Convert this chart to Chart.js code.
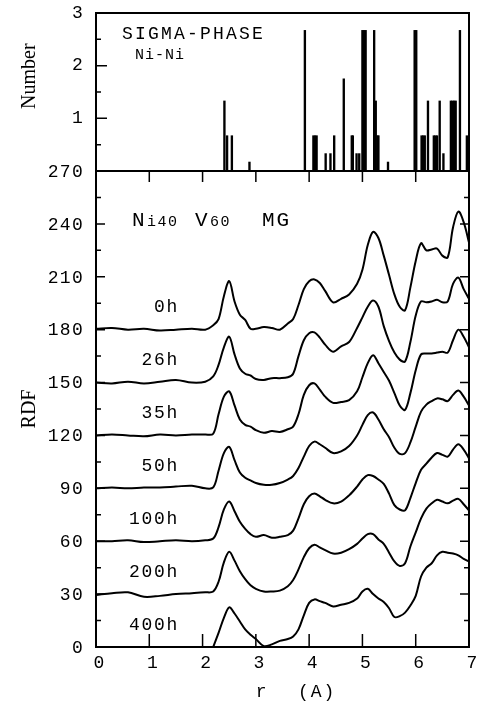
<!DOCTYPE html>
<html><head><meta charset="utf-8">
<script src="https://cdn.jsdelivr.net/npm/chart.js@4.4.1/dist/chart.umd.min.js"></script>
<style>html,body{margin:0;padding:0;background:#fff}#wrap{position:relative;width:480px;height:716px}</style>
</head><body><div id="wrap"><canvas id="c" width="480" height="716"></canvas></div>
<script>
// r grid (Angstrom)
const R = [0,0.3,0.6,0.9,1.2,1.5,1.8,2.05,2.2,2.3,2.4,2.5,2.6,2.7,2.8,2.9,3.0,3.15,3.3,3.45,3.6,3.7,3.8,3.9,4.0,4.1,4.2,4.3,4.45,4.6,4.75,4.9,5.0,5.1,5.2,5.3,5.4,5.5,5.6,5.7,5.8,5.9,6.0,6.1,6.2,6.3,6.4,6.5,6.6,6.7,6.8,6.9,7.0];
// RDF curves (axis units, with vertical offsets as plotted)
const RDF_0h   = [180.5,181,180,180.5,179.5,180,180.5,180,182.5,186,199,207.5,196,188.5,185.5,180.5,180.5,181.5,181,180,183.5,186,194,203,207.5,208.5,206.5,202,195.5,197.5,200,206,214,228,235.5,232,222,211,200,193,191,204,219,229,225,225.5,226,222,221,238,247,241,229.5];
const RDF_26h  = [150,149.5,150.5,149.5,150.5,151.5,150,150.5,153.5,160,170,176,166,158,155,154,152,151.5,152.5,152.5,153,155,165,174,178,178.5,175.5,171.5,167.5,170.5,173,181,187,193,196.5,193,182,173.5,167,163,162,173,188,196,195.5,196,197,195.5,196,206,209.5,203,197.5];
const RDF_35h  = [120,120.5,120,119.5,120.5,120,120.5,120.5,121,132,142,145,137,129,126,125,123,121.5,122.5,122,123.5,125,132,143,148.5,149.5,146,142,138.5,139,140,145,153,161,165.5,161,156,151,144,137,134.5,144,157,166,166.5,166.5,167,167.5,167,174,180,176,170];
const RDF_50h  = [90,90.5,90,90.5,90.5,91,91.5,90,90.5,100,110,113.5,106,99,96,94.5,93,92,92,93,95,97,101.5,108,114,116.5,115,113,110,111,114,120,126,131.5,133,129,123.5,119,113,109.5,110,116,125,133.5,137.5,139.5,141,140.5,139.5,143,145.5,142,137];
const RDF_100h = [60,60,60.5,59.5,60,60.5,60,60.5,61.5,68,78,82.5,77,71,67,64,62.5,63.5,62,62.5,63.5,66,73,81,85.5,87,85.5,83.5,81.5,82.5,86,91,95,97.5,97,95,92.5,87,80.5,78,77.5,84.5,93,100.5,104,107.5,110,109,108,112,115,112,107];
const RDF_200h = [29.5,30.5,31,28.5,29,30,30.5,31,31.5,37,48,54,49,43,38.5,35,33,31.5,31.5,32,34.5,38,44,51,56,58,56.5,55,53,53.5,55.5,58.5,61.5,64,64,61,58.5,53.5,48.5,46,47.5,57,65,73,78.5,81.5,83.5,82.5,81.5,83,84,81,77.5];
const RDF_400h = [null,null,null,null,null,null,null,null,0,8,16.5,22.5,19,14.5,10,7,4.5,0.5,1.5,3.5,4.5,6,10,18,25,27,26,25,23,24,25,27.5,31.5,33,30,27.5,25.5,22,17,17.5,19.5,23.5,29,40,45,47.5,52,54,53.5,53,52,50,48.5];
const CURVES = [RDF_0h,RDF_26h,RDF_35h,RDF_50h,RDF_100h,RDF_200h,RDF_400h];
const CURVE_LABELS = ['0h','26h','35h','50h','100h','200h','400h'];
const CURVE_OFFSETS = [180,150,120,90,60,30,0];
// Sigma-phase Ni-Ni distance histogram
const BAR_R = [2.41,2.46,2.55,2.88,3.92,4.08,4.11,4.14,4.31,4.40,4.47,4.65,4.80,4.82,4.89,4.94,5.00,5.03,5.06,5.22,5.25,5.28,5.30,5.48,5.98,6.01,6.11,6.14,6.17,6.23,6.34,6.37,6.40,6.45,6.52,6.66,6.69,6.72,6.75,6.83,6.96];
const BAR_N = [1.33,0.67,0.67,0.17,2.67,0.67,0.67,0.67,0.33,0.33,0.67,1.75,0.67,0.67,0.33,0.33,2.67,2.67,2.67,2.67,1.33,0.67,0.67,0.17,2.67,2.67,0.67,0.67,0.67,1.33,0.67,0.67,0.67,1.33,0.33,1.33,1.33,1.33,1.33,2.67,0.67];
const X_TICKS = [0,1,2,3,4,5,6,7];
const RDF_TICKS = [0,30,60,90,120,150,180,210,240,270];
const NUMBER_TICKS = [1,2,3];

// layout: plot frame 96..469 x 13..647, divider at 171
const AREA_TOP = 13, AREA_BOTTOM = 647, DIVIDER = 171;
const YR_MAX = 270 * (AREA_BOTTOM - AREA_TOP) / (AREA_BOTTOM - DIVIDER);
const YN_MIN = 3 - 3 * (AREA_BOTTOM - AREA_TOP) / (DIVIDER - AREA_TOP);

const MONO = '"Liberation Mono", "DejaVu Sans Mono", monospace';
const SERIF = '"Liberation Serif", "DejaVu Serif", serif';

const datasets = [{
  type: 'bar',
  data: BAR_R.map((r, i) => ({x: r, y: BAR_N[i]})),
  xAxisID: 'x', yAxisID: 'yN',
  backgroundColor: '#000', borderWidth: 0,
  barThickness: 1.7, grouped: false
}];
CURVES.forEach((vals, k) => datasets.push({
  type: 'line', label: CURVE_LABELS[k],
  data: R.map((r, i) => ({x: r, y: vals[i]})),
  xAxisID: 'x', yAxisID: 'yR',
  borderColor: '#000', borderWidth: 2, pointRadius: 0,
  tension: 0.35, spanGaps: false, fill: false
}));

function txt(ctx, s, x, y, font, align, spacing) {
  ctx.font = font; ctx.textAlign = align || 'left'; ctx.textBaseline = 'middle';
  ctx.letterSpacing = (spacing || 0) + 'px';
  ctx.fillText(s, x, y);
  ctx.letterSpacing = '0px';
}

const frame = {
  id: 'frame',
  afterDraw(chart) {
    const ctx = chart.ctx, a = chart.chartArea;
    const xs = chart.scales.x, yR = chart.scales.yR, yN = chart.scales.yN;
    ctx.save();
    ctx.strokeStyle = '#000'; ctx.fillStyle = '#000';
    ctx.lineWidth = 2;
    ctx.strokeRect(a.left, a.top, a.right - a.left, a.bottom - a.top);
    const yd = yN.getPixelForValue(0);
    ctx.beginPath(); ctx.moveTo(a.left, yd); ctx.lineTo(a.right, yd); ctx.stroke();
    ctx.lineWidth = 1.5;
    ctx.beginPath();
    X_TICKS.slice(1, -1).forEach(v => {
      const px = xs.getPixelForValue(v);
      ctx.moveTo(px, yd); ctx.lineTo(px, yd + 11);
      ctx.moveTo(px, a.bottom); ctx.lineTo(px, a.bottom - 13);
    });
    for (let v = 15; v < 270; v += 15) {
      const py = yR.getPixelForValue(v), len = (v % 30 === 0) ? 9 : 5;
      ctx.moveTo(a.left, py); ctx.lineTo(a.left + len, py);
      ctx.moveTo(a.right, py); ctx.lineTo(a.right - len, py);
    }
    for (let v = 0.5; v < 3; v += 0.5) {
      const py = yN.getPixelForValue(v), len = (v % 1 === 0) ? 11 : 5;
      ctx.moveTo(a.left, py); ctx.lineTo(a.left + len, py);
    }
    ctx.stroke();
    const tf = '18px ' + MONO;
    RDF_TICKS.forEach(v => txt(ctx, String(v), 84, yR.getPixelForValue(v) + 1, tf, 'right', 1.3));
    NUMBER_TICKS.forEach(v => txt(ctx, String(v), 84, yN.getPixelForValue(v), tf, 'right', 1.3));
    X_TICKS.forEach(v => txt(ctx, String(v), xs.getPixelForValue(v) + 3, 663, tf, 'center', 0));
    txt(ctx, 'r', xs.getPixelForValue(3.1), 692, tf, 'center', 0);
    txt(ctx, '(A)', xs.getPixelForValue(4.15), 692, tf, 'center', 2);
    ctx.save(); ctx.translate(30, yN.getPixelForValue(1.8)); ctx.rotate(-Math.PI / 2);
    txt(ctx, 'Number', 0, 0, '20px ' + SERIF, 'center', 0); ctx.restore();
    ctx.save(); ctx.translate(30, yR.getPixelForValue(135)); ctx.rotate(-Math.PI / 2);
    txt(ctx, 'RDF', 0, 0, '20px ' + SERIF, 'center', 0); ctx.restore();
    txt(ctx, 'SIGMA-PHASE', 122, 34, '18px ' + MONO, 'left', 2.2);
    txt(ctx, 'Ni-Ni', 135, 55, '15px ' + MONO, 'left', 1);
    txt(ctx, 'N', 132, 220, '21px ' + MONO, 'left', 0);
    txt(ctx, 'i40', 147, 222, '15px ' + MONO, 'left', 1.5);
    txt(ctx, 'V', 195, 220, '21px ' + MONO, 'left', 0);
    txt(ctx, '60', 210, 222, '15px ' + MONO, 'left', 1.5);
    txt(ctx, 'MG', 262, 220, '21px ' + MONO, 'left', 2);
    CURVE_LABELS.forEach((s, k) => txt(ctx, s, 179, yR.getPixelForValue(CURVE_OFFSETS[k]) - 22, '18px ' + MONO, 'right', 1.7));
    ctx.restore();
  }
};

new Chart(document.getElementById('c').getContext('2d'), {
  type: 'line',
  data: {datasets},
  options: {
    responsive: false, animation: false, devicePixelRatio: 1,
    layout: {padding: {left: 96, right: 11, top: AREA_TOP, bottom: 716 - AREA_BOTTOM}},
    plugins: {legend: {display: false}, tooltip: {enabled: false}},
    scales: {
      x: {type: 'linear', min: 0, max: 7, offset: false, display: false},
      yR: {type: 'linear', min: 0, max: YR_MAX, display: false},
      yN: {type: 'linear', min: YN_MIN, max: 3, display: false}
    }
  },
  plugins: [frame]
});
</script></body></html>
